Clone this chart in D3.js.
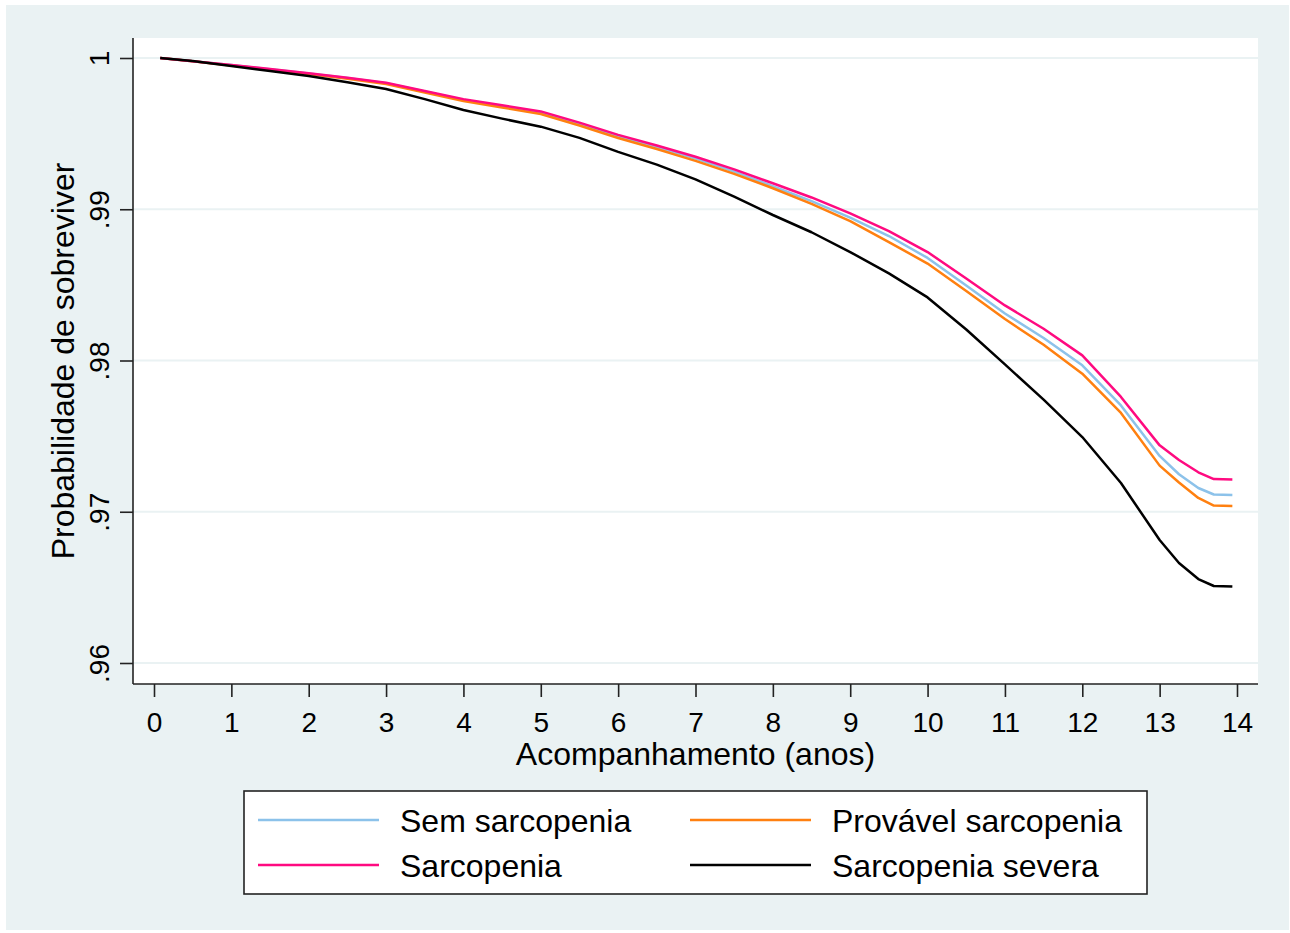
<!DOCTYPE html>
<html>
<head>
<meta charset="utf-8">
<script src="https://cdn.jsdelivr.net/npm/d3@7"></script>
<style>
  body { margin: 0; background: #fff; }
  svg { display: block; font-family: "Liberation Sans", Arial, sans-serif; }
</style>
</head>
<body>
<svg id="chart"></svg>
<script>
// follow-up time (years) and survival probability per group
let years = [0.08, 0.5, 1, 1.5, 2, 2.5, 3, 3.5, 4, 4.5, 5, 5.5, 6, 6.5, 7, 7.5,
             8, 8.5, 9, 9.5, 10, 10.5, 11, 11.5, 12, 12.5, 13, 13.25, 13.5, 13.7, 13.94];

let semSarcopenia = [1.00000, 0.99979, 0.99953, 0.99925, 0.99897, 0.99867, 0.99833, 0.99778,
                     0.99723, 0.99682, 0.99641, 0.99565, 0.99483, 0.99412, 0.99335, 0.99249,
                     0.99152, 0.99054, 0.98944, 0.98823, 0.98678, 0.98496, 0.98311, 0.98149,
                     0.97968, 0.97703, 0.97369, 0.97248, 0.97157, 0.97114, 0.97111];

let provavelSarcopenia = [1.00000, 0.99978, 0.99951, 0.99923, 0.99894, 0.99863, 0.99828, 0.99772,
                          0.99716, 0.99673, 0.99630, 0.99554, 0.99471, 0.99398, 0.99320, 0.99234,
                          0.99139, 0.99036, 0.98921, 0.98783, 0.98641, 0.98459, 0.98274, 0.98104,
                          0.97913, 0.97653, 0.97305, 0.97193, 0.97091, 0.97041, 0.97038];

let sarcopenia = [1.00000, 0.99979, 0.99954, 0.99927, 0.99899, 0.99870, 0.99836, 0.99782,
                  0.99728, 0.99687, 0.99647, 0.99573, 0.99492, 0.99422, 0.99347, 0.99264,
                  0.99172, 0.99078, 0.98973, 0.98856, 0.98717, 0.98542, 0.98364, 0.98210,
                  0.98034, 0.97759, 0.97439, 0.97342, 0.97261, 0.97216, 0.97214];

let sarcopeniaSevera = [1.00000, 0.99980, 0.99947, 0.99914, 0.99881, 0.99840, 0.99795, 0.99728,
                        0.99656, 0.99599, 0.99546, 0.99472, 0.99379, 0.99295, 0.99197, 0.99084,
                        0.98962, 0.98848, 0.98717, 0.98576, 0.98417, 0.98205, 0.97974, 0.97741,
                        0.97494, 0.97190, 0.96813, 0.96661, 0.96555, 0.96509, 0.96505];

let groupNames = ['Sem sarcopenia', 'Provável sarcopenia', 'Sarcopenia', 'Sarcopenia severa'];
let xTicks = d3.range(0, 15);
let yTicks = [0.96, 0.97, 0.98, 0.99, 1];
let yTickLabels = ['.96', '.97', '.98', '.99', '1'];

let width  = 1290,
    height = 933;
let plot = { left: 133, right: 1258, top: 38, bottom: 684 };

let series = [
  { name: groupNames[0], values: semSarcopenia,      color: '#8cc2ea' },
  { name: groupNames[1], values: provavelSarcopenia, color: '#ff8010' },
  { name: groupNames[2], values: sarcopenia,         color: '#ff0a80' },
  { name: groupNames[3], values: sarcopeniaSevera,   color: '#000000' }
];

let xScale = d3.scaleLinear().domain([0, 14]).range([154, 1237]),
    yScale = d3.scaleLinear().domain([0.96, 1]).range([663, 58]);

let svg = d3.select('#chart')
    .attr('width', width)
    .attr('height', height);

// backgrounds
svg.append('rect')
    .attr('x', 6).attr('y', 5)
    .attr('width', 1283).attr('height', 925)
    .attr('fill', '#eaf2f3');

svg.append('rect')
    .attr('x', plot.left).attr('y', plot.top)
    .attr('width', plot.right - plot.left)
    .attr('height', plot.bottom - plot.top)
    .attr('fill', '#fff');

// grid
svg.append('g')
  .selectAll('line')
  .data(yTicks)
  .enter()
  .append('line')
    .attr('x1', plot.left).attr('x2', plot.right)
    .attr('y1', d => yScale(d)).attr('y2', d => yScale(d))
    .attr('stroke', '#eaf2f3')
    .attr('stroke-width', 2);

// X axis
let xAxis = d3.axisBottom(xScale)
    .tickValues(xTicks)
    .tickFormat(d3.format('d'))
    .tickSize(13)
    .tickSizeOuter(0)
    .tickPadding(15);

let gx = svg.append('g')
    .attr('transform', `translate(0, ${plot.bottom})`)
    .call(xAxis);
gx.select('.domain').remove();
gx.selectAll('.tick line').attr('stroke', '#222').attr('stroke-width', 1.6);
gx.selectAll('.tick text')
    .attr('font-family', '"Liberation Sans", Arial, sans-serif')
    .attr('font-size', 28)
    .attr('fill', '#000');

svg.append('line')
    .attr('x1', plot.left).attr('x2', plot.right)
    .attr('y1', plot.bottom).attr('y2', plot.bottom)
    .attr('stroke', '#222').attr('stroke-width', 1.6);

// Y axis
let yAxis = d3.axisLeft(yScale)
    .tickValues(yTicks)
    .tickFormat((d, i) => yTickLabels[i])
    .tickSize(13)
    .tickSizeOuter(0);

let gy = svg.append('g')
    .attr('transform', `translate(${plot.left}, 0)`)
    .call(yAxis);
gy.select('.domain').remove();
gy.selectAll('.tick line').attr('stroke', '#222').attr('stroke-width', 1.6);
gy.selectAll('.tick text')
    .attr('font-family', '"Liberation Sans", Arial, sans-serif')
    .attr('font-size', 28)
    .attr('fill', '#000')
    .attr('x', null).attr('dy', null)
    .attr('text-anchor', 'middle')
    .attr('transform', `translate(-24, 0) rotate(-90)`);

svg.append('line')
    .attr('x1', plot.left).attr('x2', plot.left)
    .attr('y1', plot.top).attr('y2', plot.bottom)
    .attr('stroke', '#222').attr('stroke-width', 1.6);

// survival curves
let line = d3.line()
    .x((d, i) => xScale(years[i]))
    .y(d => yScale(d));

svg.append('g')
  .selectAll('path')
  .data(series)
  .enter()
  .append('path')
    .attr('d', d => line(d.values))
    .attr('fill', 'none')
    .attr('stroke', d => d.color)
    .attr('stroke-width', 2.5)
    .attr('stroke-linejoin', 'round');

// titles
svg.append('text')
    .attr('x', (plot.left + plot.right) / 2)
    .attr('y', 765)
    .attr('font-size', 32)
    .style('text-anchor', 'middle')
    .text('Acompanhamento (anos)');

svg.append('text')
    .attr('transform', `translate(74, ${(plot.top + plot.bottom) / 2}) rotate(-90)`)
    .attr('font-size', 32)
    .style('text-anchor', 'middle')
    .text('Probabilidade de sobreviver');

// legend
let legend = svg.append('g');
legend.append('rect')
    .attr('x', 244).attr('y', 791)
    .attr('width', 903).attr('height', 103)
    .attr('fill', '#fff')
    .attr('stroke', '#222')
    .attr('stroke-width', 1.6);

let legendPos = [
  { x: 258, y: 820 },
  { x: 690, y: 820 },
  { x: 258, y: 865 },
  { x: 690, y: 865 }
];

let items = legend.selectAll('g.item')
  .data(series)
  .enter()
  .append('g')
    .attr('class', 'item')
    .attr('transform', (d, i) => `translate(${legendPos[i].x}, ${legendPos[i].y})`);

items.append('line')
    .attr('x1', 0).attr('x2', 121)
    .attr('stroke', d => d.color)
    .attr('stroke-width', 2.5);

items.append('text')
    .attr('x', 142)
    .attr('y', 12)
    .attr('font-size', 32)
    .text(d => d.name);
</script>
</body>
</html>
